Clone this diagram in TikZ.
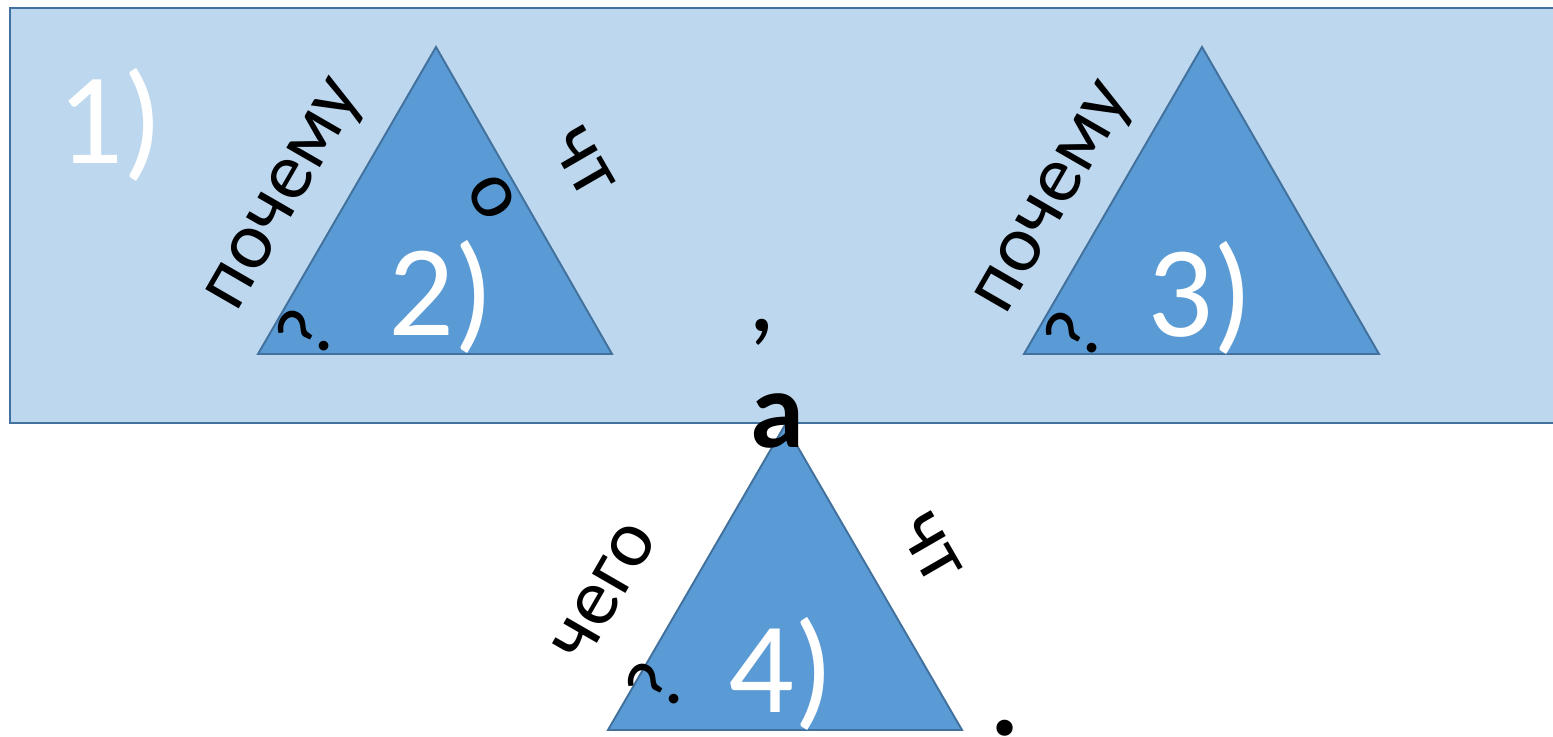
\documentclass[tikz,border=0pt]{standalone}
\usepackage{fontspec}
\setmainfont{Carlito}
\definecolor{boxblue}{RGB}{189,215,238}
\definecolor{triblue}{RGB}{91,155,213}
\definecolor{edgeblue}{RGB}{65,113,156}
\usetikzlibrary{positioning}

\begin{document}
\begin{tikzpicture}[x=0.02cm,y=-0.02cm,
  frame/.style={draw=edgeblue,line width=1.5pt,fill=boxblue},
  tri/.style={draw=edgeblue,line width=1.1pt,fill=triblue},
  num/.style={text=white,font=\fontsize{74}{74}\selectfont,inner sep=0pt},
  word/.style={font=\fontsize{46}{46}\selectfont,inner sep=0pt},
  punct/.style={font=\fontsize{62}{62}\selectfont\bfseries,inner sep=0pt}]
  \useasboundingbox (0,0) rectangle (1553,737);
  \clip (0,0) rectangle (1553,737);
  % background band
  \draw[frame] (10,8) rectangle (1570,423);
  % triangles
  \draw[tri] (258,354) coordinate (t2l) -- (436,47) coordinate (t2t) -- (612,354) coordinate (t2r) -- cycle;
  \draw[tri] (1024,354) coordinate (t3l) -- (1202,47) coordinate (t3t) -- (1379,354) coordinate (t3r) -- cycle;
  \draw[tri] (608,730) coordinate (t4l) -- (785,425) coordinate (t4t) -- (962,730) coordinate (t4r) -- cycle;
  % numbers
  \node[num] (n1) at (110,125) {1)};
  \node[num] (n2) at (441,297) {2)};
  \node[num] (n3) at (1200,298) {3)};
  \node[num] (n4) at (781,674) {4)};
  % words along the edges
  \node[word,rotate=60] (why2) at (288,197) {почему};
  \node[word,rotate=60] (q2) at (305,333) {?};
  \node[word,rotate=-60] (cht2) at (583,162) {чт};
  \node[word,rotate=-60] (o2) at (492,197) {о};
  \node[word,rotate=60] (why3) at (1057,200) {почему};
  \node[word,rotate=60] (q3) at (1073,335) {?};
  \node[word,rotate=60] (what4) at (605,592) {чего};
  \node[word,rotate=-60] (cht4) at (930,548) {чт};
  \node[word,rotate=60] (q4) at (655,686) {?};
  % punctuation
  \node[punct,font=\fontsize{62}{62}\selectfont] (comma) at (762,332) {,};
  \node[punct] (a) at (777,421) {а};
  \node[punct] (dot) at (1005,728) {.};
\end{tikzpicture}
\end{document}
